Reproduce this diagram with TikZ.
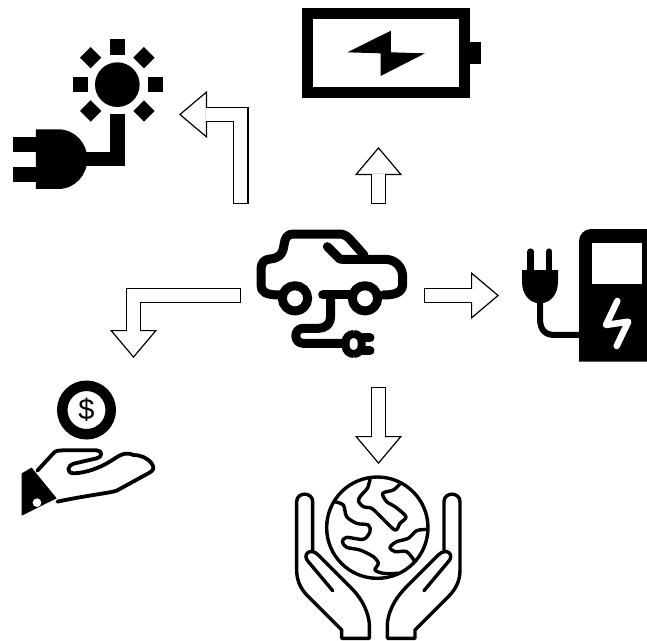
\documentclass[tikz,border=0pt]{standalone}
\usepackage{fontspec}
\setmainfont{Liberation Sans}
\usetikzlibrary{arrows.meta, calc}
\tikzset{
    blockarrow/.style={
        postaction={draw=black, line width=1.2pt, -{Triangle[length=28pt,width=47pt,line width=1.2pt,fill=white]}},
        postaction={draw=black, line width=15.4pt, shorten >=27.5pt},
        postaction={draw=white, line width=13pt, shorten >=26.5pt, shorten <=1.2pt}
    },
    iconbox/.style={
        rectangle,
        minimum width=183pt,
        minimum height=183pt,
        inner sep=0pt
    },
    zoomed/.style={
        x=0.3333pt,
        y=-0.3333pt
    },
    thickline/.style={
        line width=9pt,
        line cap=round,
        line join=round
    },
    thinline/.style={
        line width=3.4pt,
        line cap=round,
        line join=round
    },
    coin/.style={
        circle,
        draw,
        line width=10.5pt,
        minimum size=48.5pt,
        inner sep=0pt,
        font=\fontsize{29}{29}\selectfont
    }
}
\begin{document}
\begin{tikzpicture}[x=1pt, y=-1pt]
    \useasboundingbox (0,0) rectangle (647,640);

    \node[iconbox] (car) at (332.5,295.5) {};
    \coordinate (solarin) at (179,114.5);
    \coordinate (batteryin) at (378.5,147);
    \coordinate (chargerin) at (499,295.5);
    \coordinate (earthin) at (378.5,464);
    \coordinate (moneyin) at (133.5,358);

    % arrows
    \path[blockarrow] (car.north west) |- (solarin);
    \path[blockarrow] (car.north -| batteryin) -- (batteryin);
    \path[blockarrow] (car.east) -- (chargerin);
    \path[blockarrow] (car.south -| earthin) -- (earthin);
    \path[blockarrow] (car.west) -| (moneyin);

    % solar plug
    \begin{scope}[shift={(0,0)}, zoomed]
        \fill (352,254) circle[radius=67];
        \fill (330,118) rectangle (376,164);
        \fill (443,231) rectangle (488,276);
        \fill (218,231) rectangle (263,276);
        \foreach \x/\y in {272/173, 432/173, 272/333, 432/333} {
            \fill (\x-32,\y) -- (\x,\y-32) -- (\x+32,\y) -- (\x,\y+32) -- cycle;
        }
        \fill (331,343) rectangle (376,498);
        \fill (376,498) rectangle (240,455);
        \fill (108,388) -- (175,388) .. controls (225,388) and (262,430) .. (262,477)
            .. controls (262,525) and (225,567) .. (175,567) -- (108,567) -- cycle;
        \fill (38,410) rectangle (108,455);
        \fill (38,500) rectangle (108,545);
    \end{scope}

    % battery
    \begin{scope}[shift={(290,0)}, zoomed]
        \draw[line width=11pt] (51,42) rectangle (524,278);
        \fill (540,125) rectangle (573,192);
        \fill (172,157) -- (303,92) -- (303,157) -- (405,160) -- (272,228) -- (272,160) -- cycle;
    \end{scope}

    % car with cable
    \begin{scope}[shift={(240,210)}, zoomed]
        \draw[thickline] (262,110) -- (295,143) .. controls (300,148) .. (310,148) -- (435,148)
            .. controls (470,148) and (488,175) .. (488,200) -- (488,222)
            .. controls (488,245) and (470,255) .. (430,255);
        \draw[thickline] (372,135) -- (330,88) .. controls (318,75) and (310,72) .. (295,72) -- (160,72)
            .. controls (140,72) and (135,85) .. (132,105) .. controls (128,135) and (115,145) .. (90,147)
            .. controls (72,148) and (63,160) .. (63,178) -- (63,225)
            .. controls (63,245) and (75,255) .. (120,255);
        \draw[thickline] (165,265) circle[radius=38];
        \draw[thickline] (375,265) circle[radius=38];
        \draw[thickline] (248,255) -- (330,255);
        \draw[thickline] (272,255) -- (272,315) .. controls (272,345) and (255,355) .. (235,355)
            -- (190,355) .. controls (160,355) and (160,400) .. (190,400) -- (315,400);
        \draw[line width=8pt, rounded corners=8pt] (317,372) rectangle (365,432);
        \draw[thickline] (370,384) -- (390,384);
        \draw[thickline] (370,422) -- (390,422);
    \end{scope}

    % charging station
    \begin{scope}[shift={(500,220)}, zoomed]
        \fill (237,425) [rounded corners=12pt] -- (237,27) [sharp corners] -- (441,27) -- (441,425) -- cycle;
        \fill[white] (277,68) rectangle (425,192);
        \draw[white, line width=6.5pt, line cap=round, line join=round]
            (352,243) -- (318,315) -- (385,305) -- (350,378);
        \draw[line width=6.5pt, line cap=round] (92,95) -- (92,150);
        \draw[line width=6.5pt, line cap=round] (147,95) -- (147,150);
        \fill (66,150) -- (174,150) -- (174,185) .. controls (174,225) and (150,250) .. (120,250)
            .. controls (90,250) and (66,225) .. (66,185) -- cycle;
        \draw[line width=6pt] (120,245) -- (120,295) .. controls (120,330) and (135,345) .. (165,345) -- (240,345);
    \end{scope}

    % money in hand
    \node[coin] (money) at (86.5,410) {\$};
    \begin{scope}[shift={(0,370)}, zoomed]
        \fill (65,310) -- (95,293) -- (170,385) -- (65,437) -- cycle;
        \fill[white] (111,398) circle[radius=13];
        \draw[line width=3.8pt, line join=round, line cap=round]
            (112,302) -- (160,250) .. controls (165,243) and (175,241) .. (190,241) -- (290,241)
            .. controls (308,241) and (308,262) .. (290,265) -- (225,280)
            .. controls (200,285) and (198,310) .. (222,310) .. controls (260,308) and (300,295) .. (345,265)
            .. controls (370,248) and (385,248) .. (400,255) .. controls (420,255) and (440,262) .. (455,280)
            .. controls (465,295) and (460,302) .. (445,310) -- (350,362) .. controls (335,368) and (250,378) .. (172,395);
    \end{scope}

    % earth in hands
    \begin{scope}[shift={(280,460)}, zoomed]
        \draw[thinline] (292,203) circle[radius=152];
        \draw[thinline] plot[smooth] coordinates {(270,58) (262,85) (240,110) (236,125) (250,140) (275,145) (300,168) (345,210) (360,190) (378,170) (345,140) (320,125) (308,100) (340,90) (360,72)};
        \draw[thinline] plot[smooth] coordinates {(163,125) (190,135) (200,170) (230,190) (265,195) (270,215) (250,238) (200,232) (187,245) (200,262) (240,270) (280,290) (295,310) (285,330) (310,340) (355,340)};
        \draw[thinline] plot[smooth] coordinates {(443,208) (410,212) (385,235) (350,245) (330,262) (345,275) (380,275) (405,305)};
        \foreach \m/\o in {1/0, -1/590} {
            \begin{scope}[shift={(\o,0)}, xscale=\m]
                \draw[thinline] (98,270) -- (98,125) .. controls (98,95) and (50,95) .. (50,125) -- (50,330)
                    .. controls (50,360) and (60,385) .. (85,410) -- (185,510) -- (185,535) -- (268,535) -- (268,490)
                    .. controls (262,440) and (235,405) .. (210,380) -- (115,285)
                    .. controls (90,260) and (65,285) .. (85,305) -- (158,392);
            \end{scope}
        }
    \end{scope}
\end{tikzpicture}
\end{document}
